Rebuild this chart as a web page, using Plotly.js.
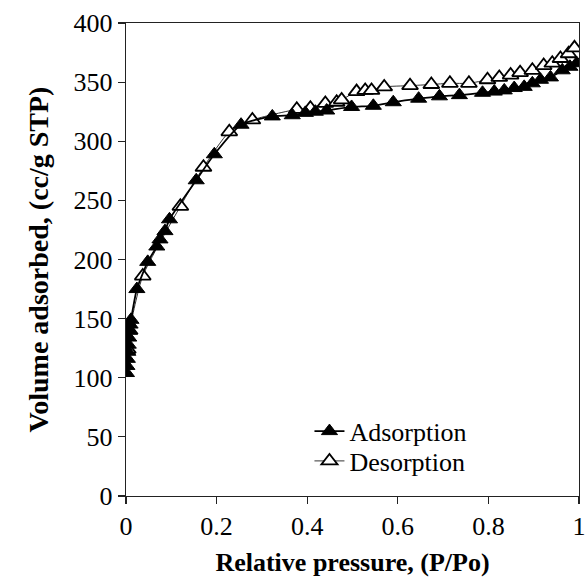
<!DOCTYPE html>
<html>
<head>
<meta charset="utf-8">
<script src="https://cdn.plot.ly/plotly-3.0.1.min.js"></script>
<style>
html,body{margin:0;padding:0;background:#fff;}
#chart{width:586px;height:587px;}
</style>
</head>
<body>
<div id="chart"></div>
<script>
// Adsorption branch (filled triangles)
var adsX = [0.001,0.002,0.003,0.004,0.005,0.006,0.007,0.009,0.011,0.024,0.048,0.068,0.075,0.086,0.096,0.155,0.195,0.254,0.323,0.367,0.396,0.418,0.443,0.498,0.546,0.59,0.646,0.692,0.736,0.787,0.813,0.835,0.857,0.879,0.897,0.915,0.937,0.963,0.98,0.995];
var adsY = [104,110,116,122,128,134,140,145,149,175,198,211,217,224,234,267,289,314,321,322,324,325,326,329,330,333,336,338,339,341,342,343,345,346,349,352,354,360,363,366];
// Desorption branch (open triangles)
var desX = [0.004,0.008,0.037,0.12,0.171,0.228,0.279,0.377,0.407,0.44,0.465,0.476,0.509,0.528,0.542,0.57,0.627,0.674,0.715,0.757,0.798,0.824,0.849,0.87,0.897,0.922,0.941,0.959,0.977,0.99];
var desY = [124,140,186,245,278,308,318,327,328,332,333,335,342,343,343,346,347,348,349,349,352,354,356,358,360,364,366,370,374,379];
var xTicks = [0,0.2,0.4,0.6,0.8,1];
var xTickText = ['0','0.2','0.4','0.6','0.8','1'];
var yTicks = [0,50,100,150,200,250,300,350,400];

var fam = 'serif';

var des = {
  x: desX, y: desY, name: 'Desorption', type: 'scatter', mode: 'lines+markers',
  line: {color: '#333', width: 1, shape: 'spline', smoothing: 0.6},
  marker: {symbol: 'triangle-up', size: 14, color: '#fff', line: {color: '#000', width: 1.8}},
  legend: 'legend2'
};
var ads = {
  x: adsX, y: adsY, name: 'Adsorption', type: 'scatter', mode: 'lines+markers',
  line: {color: '#000', width: 1.8, shape: 'spline', smoothing: 0.6},
  marker: {symbol: 'triangle-up', size: 14, color: '#000', line: {color: '#000', width: 1}},
  legend: 'legend'
};

var layout = {
  width: 586, height: 587,
  margin: {l: 126, r: 7, t: 23, b: 91},
  paper_bgcolor: '#fff', plot_bgcolor: '#fff',
  font: {family: fam, size: 26, color: '#000'},
  showlegend: true,
  legend: {x: 0.405, y: 0.137, xanchor: 'left', yanchor: 'middle', bgcolor: 'rgba(0,0,0,0)',
           font: {family: fam, size: 26, color: '#000'}},
  legend2: {x: 0.405, y: 0.074, xanchor: 'left', yanchor: 'middle', bgcolor: 'rgba(0,0,0,0)',
           font: {family: fam, size: 26, color: '#000'}},
  xaxis: {
    range: [0, 1], tickvals: xTicks, ticktext: xTickText,
    showgrid: false, zeroline: false, showline: true, linecolor: '#222', linewidth: 1.2, mirror: true,
    ticks: 'outside', ticklen: 7, tickcolor: '#222', tickwidth: 1.2,
    tickfont: {family: fam, size: 26, color: '#000'},
    title: {text: '<b>Relative pressure, (P/Po)</b>', font: {family: fam, size: 26, color: '#000'}, standoff: 12},
    automargin: false
  },
  yaxis: {
    range: [0, 400], tickvals: yTicks,
    showgrid: false, zeroline: false, showline: true, linecolor: '#222', linewidth: 1.2, mirror: true,
    ticks: 'outside', ticklen: 7, tickcolor: '#222', tickwidth: 1.2,
    tickfont: {family: fam, size: 26, color: '#000'},
    title: {text: '<b>Volume adsorbed, (cc/g STP)</b>', font: {family: fam, size: 28, color: '#000'}, standoff: 16},
    automargin: false
  }
};

Plotly.newPlot('chart', [des, ads], layout, {displayModeBar: false, staticPlot: true});
</script>
</body>
</html>
